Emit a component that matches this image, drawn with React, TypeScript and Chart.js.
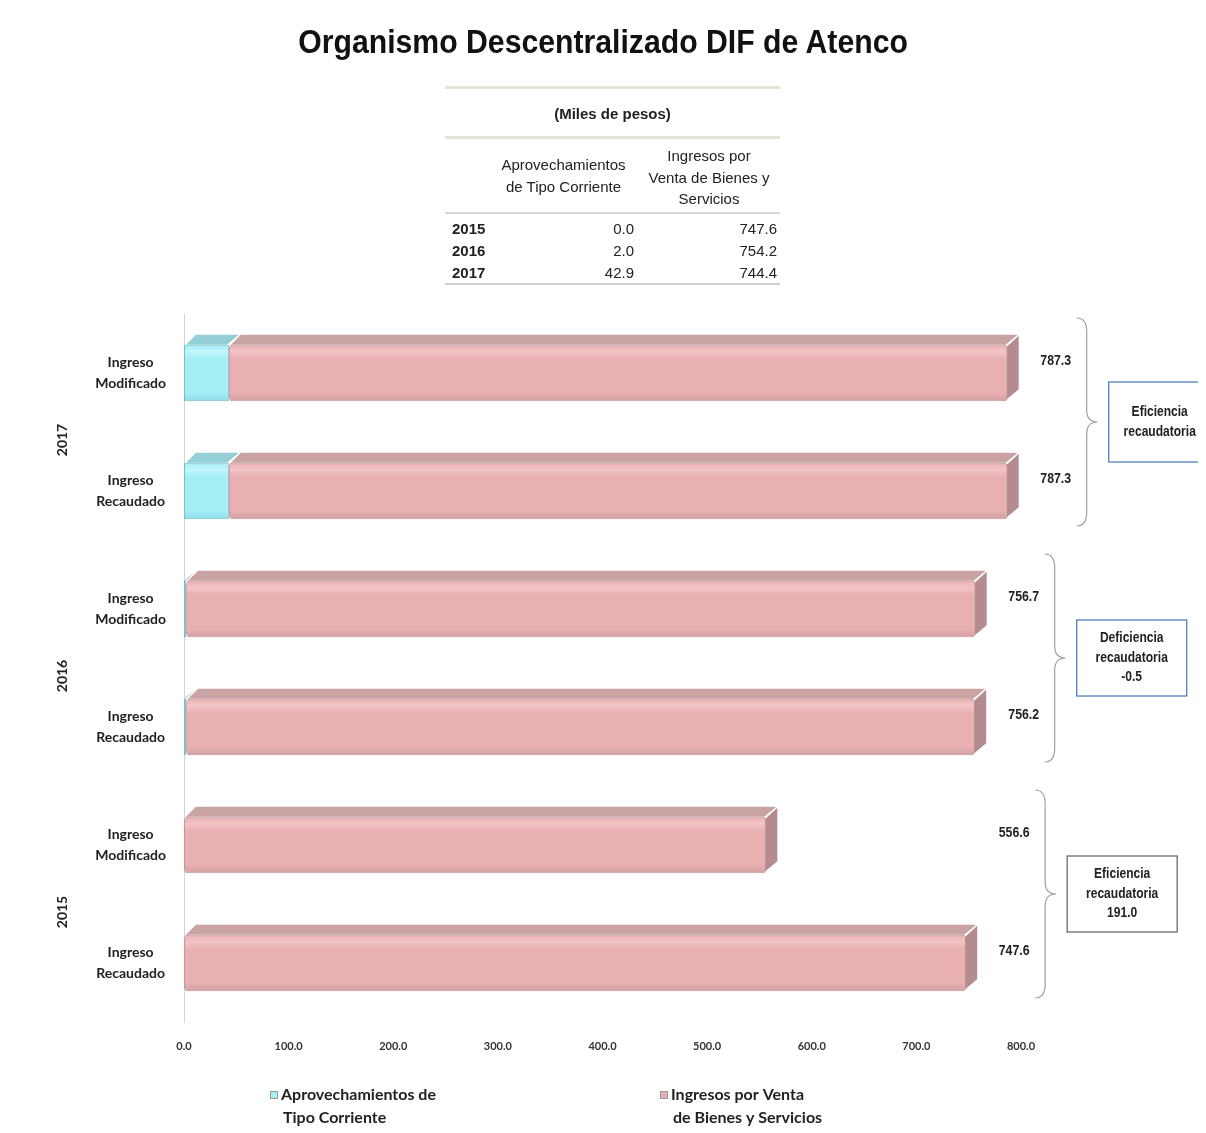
import React, { useEffect, useRef } from "react";
import { Chart, registerables } from "chart.js";

Chart.register(...registerables);

// ---------- data ----------
const categories: string[][] = [
  ["Ingreso", "Modificado"],
  ["Ingreso", "Recaudado"],
  ["Ingreso", "Modificado"],
  ["Ingreso", "Recaudado"],
  ["Ingreso", "Modificado"],
  ["Ingreso", "Recaudado"],
];
const years = ["2017", "2016", "2015"];
const aprovechamientos = [42.9, 42.9, 2.0, 2.0, 0.0, 0.0];
const ingresosVenta = [744.4, 744.4, 754.7, 754.2, 556.6, 747.6];
const totals = [787.3, 787.3, 756.7, 756.2, 556.6, 747.6];
const seriesNames = ["Aprovechamientos de Tipo Corriente", "Ingresos por Venta de Bienes y Servicios"];
const legendLines = [["Aprovechamientos de", "Tipo Corriente"], ["Ingresos por Venta", "de Bienes y Servicios"]];
const boxTexts = [
  ["Eficiencia", "recaudatoria"],
  ["Deficiencia", "recaudatoria", "-0.5"],
  ["Eficiencia", "recaudatoria", "191.0"],
];
const tableTitle = "(Miles de pesos)";
const tableHeadA = ["Aprovechamientos", "de Tipo Corriente"];
const tableHeadB = ["Ingresos por", "Venta de Bienes y", "Servicios"];
const tableYears = ["2015", "2016", "2017"];
const tableAprov = [0.0, 2.0, 42.9];
const tableIngresos = [747.6, 754.2, 744.4];
const chartTitle = "Organismo Descentralizado DIF de Atenco";

// ---------- styles ----------
const PINK = "#e8b0b3";
const PINK_LIGHT = "#f4c4c7";
const PINK_DARK = "#d3a1a4";
const PINK_TOP = "#c9a3a4";
const PINK_SIDE = "#b48b8e";
const PINK_BORDER = "#c29597";
const CYAN = "#a4eef6";
const CYAN_LIGHT = "#c2f6fb";
const CYAN_DARK = "#8fdde6";
const CYAN_TOP = "#94cfd6";
const CYAN_SIDE = "#7fb6bd";
const CYAN_BORDER = "#7cbcc4";
const BOX_BORDERS = ["#4f81bd", "#4f81bd", "#6a6a6a"];
const NARROW = '"Liberation Sans Narrow", "Liberation Sans", Arial, sans-serif';
const LABEL_FONT = 'Lato, "Open Sans", sans-serif';
const DX = 12;
const DY = 10;
const HALF_BAR = 28;

function barFill(base: string, light: string, dark: string) {
  return (c: any) => {
    const ys = c.chart.scales?.y;
    if (!ys || c.dataIndex === undefined) return base;
    const cy = ys.getPixelForValue(c.dataIndex);
    if (!isFinite(cy)) return base;
    const g = c.chart.ctx.createLinearGradient(0, cy - HALF_BAR, 0, cy + HALF_BAR);
    g.addColorStop(0, base);
    g.addColorStop(0.12, light);
    g.addColorStop(0.25, base);
    g.addColorStop(0.85, base);
    g.addColorStop(1, dark);
    return g;
  };
}

const decor = {
  id: "decor",
  afterDatasetsDraw(chart: any) {
    const ctx = chart.ctx as CanvasRenderingContext2D;
    const metas = [chart.getDatasetMeta(0), chart.getDatasetMeta(1)];
    const tops = [CYAN_TOP, PINK_TOP];
    const sides = [CYAN_SIDE, PINK_SIDE];
    ctx.save();
    for (let i = 0; i < categories.length; i++) {
      let lastRight = -1;
      let lastTop = 0;
      let lastBottom = 0;
      let lastDs = 1;
      for (let d = 0; d < 2; d++) {
        const el = metas[d].data[i];
        const p = el.getProps(["x", "y", "base", "height"], true);
        const left = Math.min(p.x, p.base);
        const right = Math.max(p.x, p.base);
        if (right - left < 0.5) continue;
        const top = p.y - p.height / 2;
        const bottom = p.y + p.height / 2;
        ctx.fillStyle = tops[d];
        ctx.beginPath();
        ctx.moveTo(left + 2, top);
        ctx.lineTo(left + DX, top - DY);
        ctx.lineTo(right + DX - 2, top - DY);
        ctx.lineTo(right - 2, top);
        ctx.closePath();
        ctx.fill();
        lastRight = right;
        lastTop = top;
        lastBottom = bottom;
        lastDs = d;
      }
      if (lastRight > 0) {
        ctx.fillStyle = sides[lastDs];
        ctx.beginPath();
        ctx.moveTo(lastRight - 1, lastTop + 2);
        ctx.lineTo(lastRight + DX - 1, lastTop - DY + 1);
        ctx.lineTo(lastRight + DX - 1, lastBottom - DY - 2);
        ctx.lineTo(lastRight - 1, lastBottom - 2);
        ctx.closePath();
        ctx.fill();
      }
    }
    ctx.restore();
  },
  afterDraw(chart: any) {
    const ctx = chart.ctx as CanvasRenderingContext2D;
    const xs = chart.scales.x;
    const ys = chart.scales.y;
    ctx.save();
    for (let g = 0; g < years.length; g++) {
      const i1 = g * 2;
      const i2 = g * 2 + 1;
      const c1 = ys.getPixelForValue(i1);
      const c2 = ys.getPixelForValue(i2);
      // year label
      ctx.save();
      ctx.translate(54, (c1 + c2) / 2 + 8);
      ctx.rotate(-Math.PI / 2);
      ctx.font = `bold 14px ${LABEL_FONT}`;
      ctx.fillStyle = "#222";
      ctx.textAlign = "center";
      ctx.textBaseline = "middle";
      ctx.fillText(years[g], 0, 0);
      ctx.restore();
      // value labels
      const lx = Math.max(xs.getPixelForValue(totals[i1]), xs.getPixelForValue(totals[i2])) + 48;
      ctx.font = `bold 14px ${NARROW}`;
      ctx.fillStyle = "#222";
      ctx.textAlign = "center";
      ctx.textBaseline = "middle";
      ctx.save();
      ctx.translate(lx, 0);
      ctx.scale(0.88, 1);
      ctx.fillText(totals[i1].toFixed(1), 0, c1 - 12);
      ctx.fillText(totals[i2].toFixed(1), 0, c2 - 12);
      ctx.restore();
      // brace
      const bx = lx + 21;
      const top = c1 - 55;
      const bottom = c2 + 35;
      const mid = (top + bottom) / 2;
      const w = 10;
      ctx.strokeStyle = "#a0a0a0";
      ctx.lineWidth = 1.2;
      ctx.beginPath();
      ctx.moveTo(bx, top);
      ctx.quadraticCurveTo(bx + w, top, bx + w, top + 14);
      ctx.lineTo(bx + w, mid - 12);
      ctx.quadraticCurveTo(bx + w, mid, bx + w + 11, mid);
      ctx.quadraticCurveTo(bx + w, mid, bx + w, mid + 12);
      ctx.lineTo(bx + w, bottom - 14);
      ctx.quadraticCurveTo(bx + w, bottom, bx, bottom);
      ctx.stroke();
      // box
      const lines = boxTexts[g];
      const bw = 110;
      const bh = lines.length === 2 ? 80 : 76;
      const bl = bx + w + 22;
      const bt = mid - bh / 2;
      ctx.fillStyle = "#ffffff";
      ctx.fillRect(bl, bt, bw, bh);
      ctx.strokeStyle = BOX_BORDERS[g];
      ctx.lineWidth = 1.3;
      ctx.strokeRect(bl, bt, bw, bh);
      ctx.fillStyle = "#222";
      ctx.font = `bold 14px ${NARROW}`;
      const lh = 19.5;
      const start = mid - ((lines.length - 1) * lh) / 2;
      ctx.save();
      ctx.translate(bl + bw / 2 - (lines.length === 2 ? 4 : 0), 0);
      ctx.scale(0.86, 1);
      lines.forEach((t, k) => ctx.fillText(t, 0, start + k * lh));
      ctx.restore();
    }
    // legend
    const legendX = [262, 652];
    const colors = [CYAN, PINK];
    for (let d = 0; d < 2; d++) {
      const x = legendX[d];
      ctx.fillStyle = colors[d];
      ctx.strokeStyle = "#999";
      ctx.lineWidth = 1;
      ctx.fillRect(x, 1083, 7, 7);
      ctx.strokeRect(x + 0.5, 1083.5, 7, 7);
      ctx.fillStyle = "#222";
      ctx.font = `bold 16px ${LABEL_FONT}`;
      ctx.textAlign = "left";
      ctx.textBaseline = "middle";
      ctx.fillText(legendLines[d][0], x + 11, 1087);
      ctx.fillText(legendLines[d][1], x + 13, 1110);
    }
    ctx.restore();
  },
};

export default function App() {
  const ref = useRef<HTMLCanvasElement>(null);
  useEffect(() => {
    if (!ref.current) return;
    const chart = new Chart(ref.current, {
      type: "bar",
      data: {
        labels: categories as any,
        datasets: [
          {
            label: seriesNames[0],
            data: aprovechamientos,
            backgroundColor: barFill(CYAN, CYAN_LIGHT, CYAN_DARK),
            borderColor: CYAN_BORDER,
            borderWidth: (c: any) => (c.raw > 0 ? 1 : 0),
            borderRadius: 4,
            borderSkipped: false,
            barPercentage: 0.48,
            categoryPercentage: 1,
          },
          {
            label: seriesNames[1],
            data: ingresosVenta,
            backgroundColor: barFill(PINK, PINK_LIGHT, PINK_DARK),
            borderColor: PINK_BORDER,
            borderWidth: 1,
            borderRadius: 4,
            borderSkipped: false,
            barPercentage: 0.48,
            categoryPercentage: 1,
          },
        ],
      },
      options: {
        indexAxis: "y",
        responsive: false,
        animation: false,
        layout: { padding: { left: 64, right: 185, top: 306, bottom: 71 } },
        plugins: { legend: { display: false }, tooltip: { enabled: false } },
        scales: {
          x: {
            stacked: true,
            min: 0,
            max: 800,
            ticks: {
              stepSize: 100,
              callback: (v: any) => Number(v).toFixed(1),
              font: { family: LABEL_FONT, size: 11, weight: "bold" },
              color: "#333",
              padding: 18,
              maxRotation: 0,
            },
            grid: { display: false, drawTicks: false },
            border: { display: false },
            afterFit: (s: any) => {
              s.height = 40;
            },
          },
          y: {
            stacked: true,
            ticks: {
              font: { family: LABEL_FONT, size: 14, weight: "bold", lineHeight: 1.45 },
              color: "#222",
              crossAlign: "center",
              padding: 18,
            },
            grid: { display: false, drawTicks: false },
            border: { display: true, color: "#d4d4d4" },
            afterFit: (s: any) => {
              s.width = 112;
            },
          },
        },
      } as any,
      plugins: [decor],
    });
    return () => chart.destroy();
  }, []);

  const abs = (x: number, y: number, extra: React.CSSProperties = {}): React.CSSProperties => ({
    position: "absolute",
    left: x - 8,
    top: y - 8,
    ...extra,
  });
  const tf: React.CSSProperties = { fontFamily: NARROW, fontSize: 15, color: "#222", lineHeight: "21px", whiteSpace: "nowrap" };
  const hline = (y: number, color: string, h = 2): React.CSSProperties =>
    abs(445, y, { width: 335, height: h, background: color });

  return (
    <div style={{ position: "relative", width: 1198, height: 1125, background: "#fff" }}>
      <canvas ref={ref} width={1198} height={1125} style={{ position: "absolute", left: 0, top: 0 }} />
      <div
        style={abs(0, 20, {
          width: 1206,
          textAlign: "center",
          fontFamily: '"Liberation Sans", Arial, sans-serif',
          fontWeight: "bold",
          fontSize: 33,
          lineHeight: "44px",
          color: "#111",
          transform: "scaleX(0.915)",
          transformOrigin: "604px 0",
        })}
      >
        {chartTitle}
      </div>
      <div style={hline(86, "#e2e5d6", 3)} />
      <div style={abs(445, 103, { ...tf, width: 335, textAlign: "center", fontWeight: "bold" })}>{tableTitle}</div>
      <div style={hline(136, "#e2e5d6", 3)} />
      <div style={abs(486, 154, { ...tf, width: 155, textAlign: "center", lineHeight: "22px" })}>
        {tableHeadA.map((t) => (
          <div key={t}>{t}</div>
        ))}
      </div>
      <div style={abs(636, 145, { ...tf, width: 146, textAlign: "center", lineHeight: "21.5px" })}>
        {tableHeadB.map((t) => (
          <div key={t}>{t}</div>
        ))}
      </div>
      <div style={hline(212, "#d6d6d6", 2)} />
      {tableYears.map((yv, k) => (
        <React.Fragment key={yv}>
          <div style={abs(452, 218 + k * 22, { ...tf, fontWeight: "bold" })}>{yv}</div>
          <div style={abs(534, 218 + k * 22, { ...tf, width: 100, textAlign: "right" })}>{tableAprov[k].toFixed(1)}</div>
          <div style={abs(677, 218 + k * 22, { ...tf, width: 100, textAlign: "right" })}>{tableIngresos[k].toFixed(1)}</div>
        </React.Fragment>
      ))}
      <div style={hline(283, "#cfcfcf", 2)} />
    </div>
  );
}
